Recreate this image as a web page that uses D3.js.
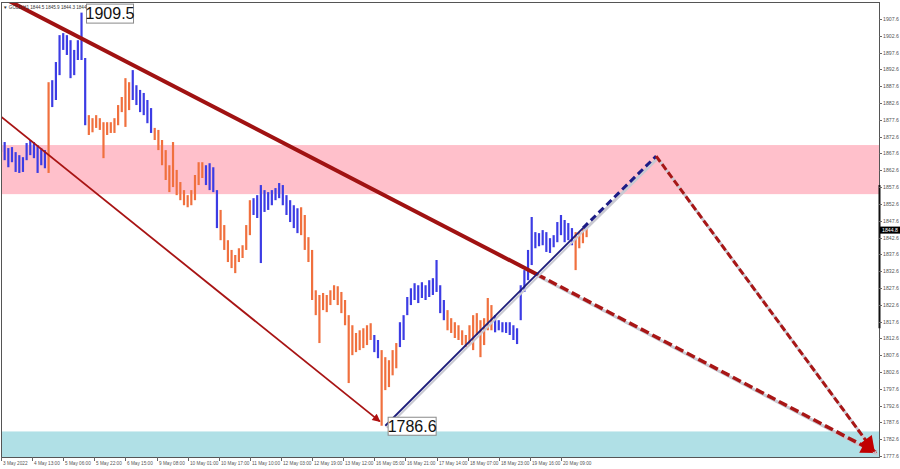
<!DOCTYPE html>
<html>
<head>
<meta charset="utf-8">
<script src="https://d3js.org/d3.v7.min.js"></script>
<style>
  body { margin: 0; background: #fff; }
  svg { display: block; }
  text { font-family: "Liberation Sans", Arial, sans-serif; }
</style>
</head>
<body>
<svg id="chart" width="900" height="469"></svg>
<script>
// GOLD H1 in 2-hour steps (bar k sits at hour 2k)
const barHigh = [
  1871.6,1871.0,1869.2,1869.5,1868.0,1867.1,1866.5,1870.7,1871.6,1871.0,
  1870.1,1869.2,1868.6,1888.8,1889.4,1894.8,1902.8,1903.4,1902.8,1901.3,
  1898.4,1901.3,1909.5,1896.0,1879.0,1878.1,1879.0,1878.1,1876.9,1876.9,
  1876.9,1878.1,1882.0,1884.4,1890.0,1888.8,1892.4,1887.9,1886.5,1885.6,
  1883.5,1881.1,1875.2,1874.6,1871.6,1868.6,1864.1,1871.0,1862.7,1859.1,
  1856.7,1855.2,1856.7,1861.2,1865.0,1865.0,1864.1,1864.7,1863.5,1856.7,
  1850.8,1846.3,1841.8,1838.9,1837.4,1839.4,1840.3,1846.3,1853.7,1854.3,
  1855.2,1858.2,1856.7,1856.1,1856.7,1857.3,1858.8,1858.2,1855.2,1853.7,
  1852.2,1851.3,1851.6,1849.3,1842.7,1838.9,1826.9,1825.5,1826.1,1825.5,
  1826.9,1828.4,1828.1,1826.4,1824.0,1819.5,1816.5,1814.2,1815.0,1815.6,
  1816.5,1817.1,1813.6,1812.1,1809.1,1807.0,1806.1,1809.1,1811.2,1817.4,
  1819.5,1824.9,1827.5,1829.0,1828.4,1829.3,1828.4,1829.9,1830.5,1835.9,
  1828.4,1824.0,1821.0,1818.6,1817.4,1816.5,1815.0,1813.6,1816.5,1819.5,
  1820.1,1818.0,1818.6,1824.6,1822.5,1819.5,1818.0,1817.4,1817.4,1817.4,
  1816.5,1815.6,1828.4,1832.9,1838.9,1848.7,1844.2,1843.9,1844.8,1844.2,
  1842.4,1843.3,1847.2,1849.3,1847.8,1846.9,1845.4,1844.2,1844.2,1845.4,
  1846.3
];
const barLow = [
  1868.0,1865.6,1863.5,1865.0,1862.1,1861.8,1862.1,1865.6,1867.1,1866.2,
  1861.8,1864.1,1863.2,1861.8,1881.4,1883.5,1890.9,1898.4,1896.9,1890.0,
  1890.9,1895.4,1895.4,1876.0,1873.1,1873.9,1875.2,1874.6,1866.2,1873.1,
  1873.7,1873.7,1876.0,1879.9,1875.5,1880.5,1883.5,1882.0,1879.9,1879.0,
  1876.6,1873.7,1871.6,1868.6,1864.1,1859.7,1856.1,1857.6,1855.2,1853.7,
  1852.2,1851.6,1852.2,1853.7,1858.2,1860.3,1858.2,1856.7,1856.1,1845.4,
  1841.8,1838.9,1835.3,1833.5,1832.0,1835.3,1836.5,1838.9,1843.3,1849.3,
  1848.4,1835.0,1850.2,1850.8,1852.2,1853.7,1854.3,1852.2,1849.3,1847.2,
  1845.4,1843.9,1843.3,1838.9,1835.3,1824.0,1819.5,1811.2,1821.0,1820.4,
  1822.5,1824.0,1822.5,1820.1,1816.5,1799.3,1807.6,1808.5,1809.1,1809.7,
  1810.6,1812.1,1808.5,1806.7,1786.6,1797.2,1798.1,1801.6,1803.7,1810.0,
  1812.1,1819.5,1822.5,1824.0,1823.1,1824.6,1824.0,1824.9,1825.5,1826.4,
  1820.1,1818.0,1815.0,1814.2,1812.7,1812.1,1810.6,1810.0,1810.6,1809.1,
  1813.6,1807.0,1810.6,1815.0,1815.0,1814.4,1815.0,1814.4,1814.2,1813.6,
  1812.1,1810.9,1818.0,1826.4,1829.9,1834.4,1839.4,1840.0,1840.3,1838.3,
  1838.0,1839.7,1841.2,1843.3,1841.2,1841.8,1840.3,1832.9,1839.4,1840.9,
  1842.7
];
// first bar of each wave, waves alternate blue (up) / orange (down)
const waveStarts = [0, 13, 14, 24, 36, 42, 56, 60, 69, 82, 102, 104, 109, 122, 135, 157];

const timeLabels = [
  "3 May 2022", "4 May 13:00", "5 May 06:00", "5 May 22:00", "6 May 15:00",
  "9 May 08:00", "10 May 01:00", "10 May 17:00", "11 May 10:00", "12 May 03:00",
  "12 May 19:00", "13 May 12:00", "16 May 05:00", "16 May 21:00", "17 May 14:00",
  "18 May 07:00", "18 May 23:00", "19 May 16:00", "20 May 09:00"
];
const timeLabelHours = [0, 17, 34, 51, 68, 85, 102, 119, 136, 153, 170, 187, 204, 221, 238, 255, 272, 289, 306];
const priceTicks = [
  1777.6, 1782.6, 1787.6, 1792.6, 1797.6, 1802.6, 1807.6, 1812.6, 1817.6,
  1822.6, 1827.6, 1832.6, 1837.6, 1842.6, 1847.6, 1852.6, 1857.6, 1862.6,
  1867.6, 1872.6, 1877.6, 1882.6, 1887.6, 1892.6, 1897.6, 1902.6, 1907.6
];

const sellZone = [1855.5, 1870.1];
const buyZone = [1777.6, 1784.9];
const lastClose = 1844.8;
const headerText = "GOLD,H1  1844.5 1845.9 1844.3 1844.8";

const peakPoint = [44, 1909.5];
const lowPoint = [208, 1786.6];

// [hour, price] anchors of the drawn lines
const mainTrendSolid = [[0, 1914.2], [293, 1831.6]];
const mainTrendDash = [[293, 1831.6], [478, 1778.7]];
const lowerTrend = [[-1, 1879.0], [207, 1787.9]];
const upLegSolid = [[210, 1786.6], [318, 1845.4]];
const upLegDash = [[318, 1845.4], [358, 1866.8]];
const downLegDash = [[358, 1866.8], [477, 1779.0]];

const plot = {left: 1, right: 879, top: 2, bottom: 457};

const svg = d3.select("#chart");
const x = d3.scaleLinear().domain([0, 480]).range([1, 879.4]);
const y = d3.scaleLinear().domain([1777.6, 1907.6]).range([456, 19]);

const defs = svg.append("defs");
defs.append("clipPath").attr("id", "plotClip")
  .append("rect")
  .attr("x", plot.left).attr("y", plot.top)
  .attr("width", plot.right - plot.left).attr("height", plot.bottom - plot.top);

function addArrow(id, color, w, h) {
  defs.append("marker")
    .attr("id", id)
    .attr("viewBox", "0 0 10 10")
    .attr("refX", 9).attr("refY", 5)
    .attr("markerUnits", "userSpaceOnUse")
    .attr("markerWidth", w).attr("markerHeight", h)
    .attr("orient", "auto")
    .append("path").attr("d", "M0,0 L10,5 L0,10 Z").attr("fill", color);
}
addArrow("arrowBig", "#c00000", 20, 16);
addArrow("arrowSmall", "#b01010", 10, 8);

const g = svg.append("g").attr("clip-path", "url(#plotClip)");

// zones
g.append("rect")
  .attr("x", plot.left).attr("width", plot.right - plot.left)
  .attr("y", y(sellZone[1])).attr("height", y(sellZone[0]) - y(sellZone[1]))
  .attr("fill", "#ffc0cb");
g.append("rect")
  .attr("x", plot.left).attr("width", plot.right - plot.left)
  .attr("y", y(buyZone[1])).attr("height", y(buyZone[0]) - y(buyZone[1]) + 2)
  .attr("fill", "#b0e0e6");

// bars
const barColor = k => (d3.bisectRight(waveStarts, k) - 1) % 2 === 0 ? "#3c3ce4" : "#f0703e";
g.append("g").selectAll("line")
  .data(barHigh.map((h, k) => ({k, h, l: barLow[k]})))
  .join("line")
  .attr("x1", d => x(2 * d.k)).attr("x2", d => x(2 * d.k))
  .attr("y1", d => y(d.h)).attr("y2", d => y(d.l))
  .attr("stroke", d => barColor(d.k))
  .attr("stroke-width", 2.2);

const line = d3.line().x(d => x(d[0])).y(d => y(d[1]));

function shadow(pts, w) {
  g.append("path").attr("d", line(pts))
    .attr("transform", "translate(1.5,2)")
    .attr("fill", "none").attr("stroke", "#c9c9d2").attr("stroke-width", w);
}

// lower channel line into the low
g.append("path").attr("d", line(lowerTrend))
  .attr("fill", "none").attr("stroke", "#a81414").attr("stroke-width", 1.8)
  .attr("marker-end", "url(#arrowSmall)");

// main descending trend line
g.append("path").attr("d", line(mainTrendSolid))
  .attr("fill", "none").attr("stroke", "#a01212").attr("stroke-width", 4);
shadow(mainTrendDash, 3);
g.append("path").attr("d", line(mainTrendDash))
  .attr("fill", "none").attr("stroke", "#a81616").attr("stroke-width", 3.5)
  .attr("stroke-dasharray", "9,4")
  .attr("marker-end", "url(#arrowBig)");

// rising leg from the low
shadow(upLegSolid, 2);
g.append("path").attr("d", line(upLegSolid))
  .attr("fill", "none").attr("stroke", "#1c1c7a").attr("stroke-width", 1.8);
shadow(upLegDash, 3);
g.append("path").attr("d", line(upLegDash))
  .attr("fill", "none").attr("stroke", "#1c1c86").attr("stroke-width", 3)
  .attr("stroke-dasharray", "7,4");

// projected drop
shadow(downLegDash, 3);
g.append("path").attr("d", line(downLegDash))
  .attr("fill", "none").attr("stroke", "#a81616").attr("stroke-width", 3)
  .attr("stroke-dasharray", "7,3")
  .attr("marker-end", "url(#arrowBig)");

// header
svg.append("text").attr("x", 3).attr("y", 8.5).attr("font-size", 4.6).attr("fill", "#333")
  .text("\u25BC " + headerText);

// price boxes at the extremes
function priceBox(pt, dx, dy, w, h, txt) {
  const bx = x(pt[0]) + dx, by = y(pt[1]) + dy;
  svg.append("rect").attr("x", bx).attr("y", by).attr("width", w).attr("height", h)
    .attr("fill", "#fff").attr("stroke", "#8a8a8a").attr("stroke-width", 1);
  svg.append("text").attr("x", bx + w / 2).attr("y", by + h / 2 + 5.5)
    .attr("text-anchor", "middle").attr("font-size", 16).attr("fill", "#111")
    .text(txt);
}
priceBox(peakPoint, 5, -8.5, 47, 19, peakPoint[1].toFixed(1));
priceBox(lowPoint, 6.5, -8.5, 48, 18, lowPoint[1].toFixed(1));

// frame
svg.append("rect")
  .attr("x", plot.left + 0.5).attr("y", plot.top + 0.5)
  .attr("width", plot.right - plot.left).attr("height", plot.bottom - plot.top)
  .attr("fill", "none").attr("stroke", "#555").attr("stroke-width", 1);
svg.append("line")
  .attr("x1", plot.right + 0.5).attr("x2", plot.right + 0.5)
  .attr("y1", y(1858.2)).attr("y2", y(1815.6))
  .attr("stroke", "#111").attr("stroke-width", 2);

// price axis
const yAxis = svg.append("g");
priceTicks.forEach(p => {
  yAxis.append("line")
    .attr("x1", plot.right).attr("x2", plot.right + 3)
    .attr("y1", Math.round(y(p)) + 0.5).attr("y2", Math.round(y(p)) + 0.5)
    .attr("stroke", "#666");
  yAxis.append("text")
    .attr("x", plot.right + 4).attr("y", y(p) + 2)
    .attr("font-size", 5.2).attr("fill", "#555")
    .text(p.toFixed(1));
});
yAxis.append("rect")
  .attr("x", plot.right + 1).attr("y", y(lastClose) - 3.5)
  .attr("width", 20).attr("height", 7).attr("fill", "#000");
yAxis.append("text")
  .attr("x", plot.right + 3).attr("y", y(lastClose) + 2)
  .attr("font-size", 5.2).attr("fill", "#fff")
  .text(lastClose.toFixed(1));

// time axis
const xAxis = svg.append("g");
timeLabels.forEach((t, i) => {
  const tx = Math.round(x(timeLabelHours[i])) + 0.5;
  xAxis.append("line")
    .attr("x1", tx).attr("x2", tx)
    .attr("y1", plot.bottom).attr("y2", plot.bottom + 4)
    .attr("stroke", "#666");
  xAxis.append("text")
    .attr("x", tx + 1.5).attr("y", plot.bottom + 7.5)
    .attr("font-size", 4.7).attr("fill", "#555")
    .text(t);
});
</script>
</body>
</html>
